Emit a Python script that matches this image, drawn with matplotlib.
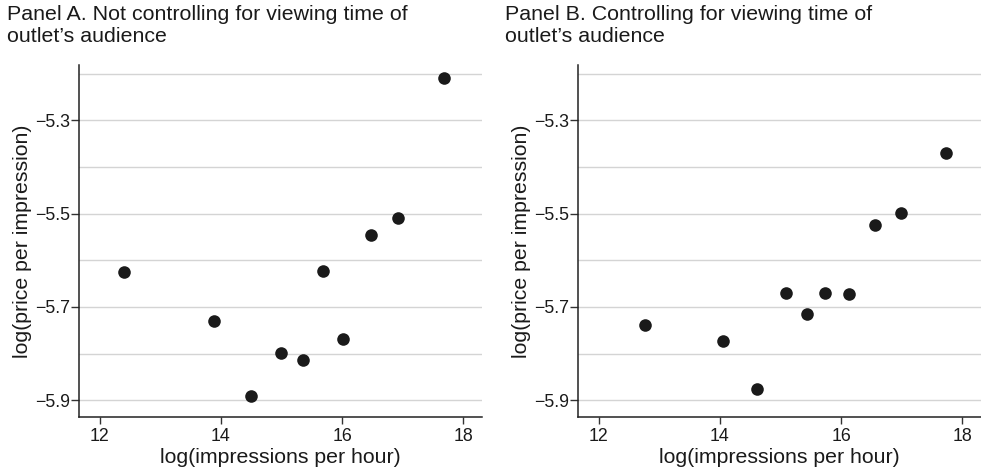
import matplotlib
matplotlib.use("Agg")
from matplotlib import pyplot as plt
from matplotlib.ticker import FixedLocator

plt.rcParams['font.family'] = ['Liberation Sans', 'DejaVu Sans']

# log(impressions per hour) and log(price per impression), one point per bin
x_a = [12.40, 13.88, 14.50, 14.99, 15.36, 15.68, 16.02, 16.48, 16.93, 17.68]
y_a = [-5.624, -5.731, -5.891, -5.798, -5.813, -5.622, -5.768, -5.545, -5.510, -5.209]

x_b = [12.77, 14.05, 14.62, 15.09, 15.44, 15.74, 16.13, 16.56, 16.99, 17.74]
y_b = [-5.738, -5.772, -5.875, -5.669, -5.716, -5.669, -5.672, -5.524, -5.499, -5.369]

titles = ["Panel A. Not controlling for viewing time of\noutlet\u2019s audience",
          "Panel B. Controlling for viewing time of\noutlet\u2019s audience"]
xticks = [12, 14, 16, 18]
xtick_labels = ["12", "14", "16", "18"]
yticks = [-5.9, -5.7, -5.5, -5.3]
ytick_labels = ["\u22125.9", "\u22125.7", "\u22125.5", "\u22125.3"]
ygrid_minor = [-5.8, -5.6, -5.4, -5.2]

W, H = 981, 475
fig = plt.figure(figsize=(W / 100, H / 100), dpi=100)

panels = [(x_a, y_a, 79), (x_b, y_b, 578)]
title_x = [7, 505]
ink = '#1a1a1a'

for i, (xs, ys, left_px) in enumerate(panels):
    ax = fig.add_axes([left_px / W, 1 - 417 / H, 403 / W, (417 - 65) / H])
    ax.set_axisbelow(True)
    ax.scatter(xs, ys, s=82, color=ink, linewidths=0, zorder=3)

    ax.set_xlim(11.66, 18.31)
    ax.set_ylim(-5.936, -5.181)

    ax.set_xticks(xticks, labels=xtick_labels)
    ax.set_yticks(yticks, labels=ytick_labels)
    ax.yaxis.set_minor_locator(FixedLocator(ygrid_minor))
    ax.tick_params(axis='x', which='major', length=5, width=1.0, pad=3,
                   labelsize=12.8, color='#333333', labelcolor=ink)
    ax.tick_params(axis='y', which='major', length=5.5, width=1.0, pad=1,
                   labelsize=12.8, color='#333333', labelcolor=ink)
    ax.tick_params(axis='y', which='minor', length=0)

    ax.grid(axis='y', which='both', color='#d4d4d4', linewidth=1.0)

    for side in ['top', 'right']:
        ax.spines[side].set_visible(False)
    for side in ['left', 'bottom']:
        ax.spines[side].set_color('#222222')
        ax.spines[side].set_linewidth(1.1)

    ax.set_xlabel("log(impressions per hour)", fontsize=15.3, color=ink, labelpad=2)
    ax.set_ylabel("log(price per impression)", fontsize=15.3, color=ink, labelpad=2)

    fig.text(title_x[i] / W, 1 - 5 / H, titles[i], ha='left', va='top',
             fontsize=15.4, color=ink, linespacing=1.22)

fig.savefig("out.png", dpi=100)
